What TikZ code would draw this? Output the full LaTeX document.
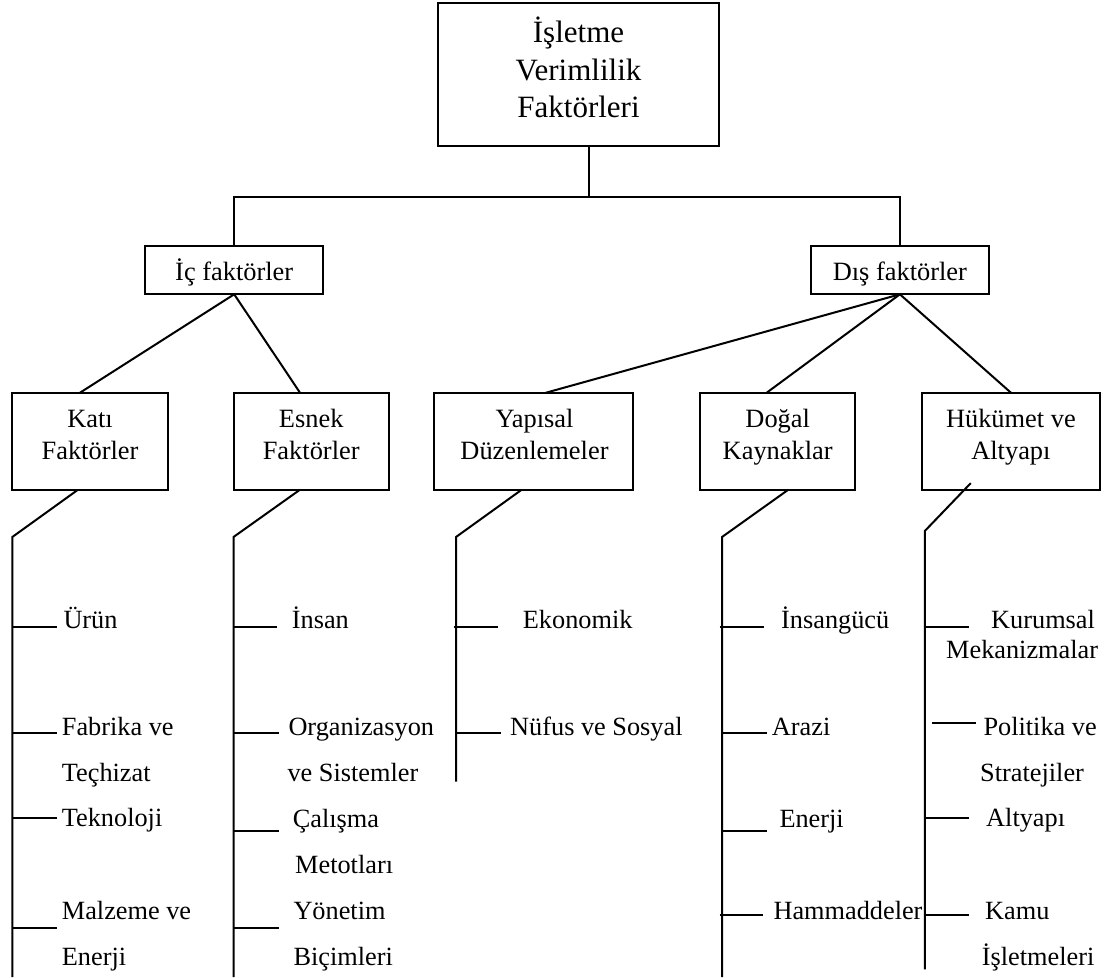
\documentclass[tikz,border=0pt]{standalone}
\usepackage{fontspec}
\setmainfont{Liberation Serif}
\begin{document}
\begin{tikzpicture}[x=1pt,y=-1pt,
  box/.style={draw, line width=2pt, inner sep=0pt, outer sep=0pt},
  link/.style={line width=2pt},
  boxtext/.style={anchor=base, inner sep=0pt, font=\fontsize{26.4}{31}\selectfont},
  headtext/.style={anchor=base, inner sep=0pt, font=\fontsize{31}{37}\selectfont},
  leaf/.style={anchor=base west, inner sep=0pt, font=\fontsize{26.3}{31}\selectfont}]
\useasboundingbox (0,0) rectangle (1110,977);

% ---- boxes ----
\node[box, minimum width=281.6pt, minimum height=143.3pt] (top) at (578.5,74.35) {};
\node[box, minimum width=178.3pt, minimum height=48.6pt] (ic) at (234.2,270) {};
\node[box, minimum width=177.7pt, minimum height=48.6pt] (dis) at (899.9,270) {};
\node[box, minimum width=155.4pt, minimum height=97pt] (kati) at (90,441.2) {};
\node[box, minimum width=155.3pt, minimum height=97pt] (esnek) at (311.7,441.2) {};
\node[box, minimum width=199.3pt, minimum height=97pt] (yapisal) at (533.7,441.2) {};
\node[box, minimum width=155.3pt, minimum height=97pt] (dogal) at (777.7,441.2) {};
\node[box, minimum width=177.7pt, minimum height=97pt] (hukumet) at (1010.9,441.2) {};

% ---- box captions ----
\node[headtext] (top1) at (578.5,42) {İşletme};
\node[headtext] (top2) at (578.5,80) {Verimlilik};
\node[headtext] (top3) at (578.5,117.5) {Faktörleri};
\node[boxtext] (ic1) at (234.2,280) {İç faktörler};
\node[boxtext] (dis1) at (899.9,280) {Dış faktörler};
\node[boxtext] (kati1) at (90,427.5) {Katı};
\node[boxtext] (kati2) at (90,459) {Faktörler};
\node[boxtext] (esnek1) at (311.2,427.5) {Esnek};
\node[boxtext] (esnek2) at (311.2,459) {Faktörler};
\node[boxtext] (yapisal1) at (534.5,427.5) {Yapısal};
\node[boxtext] (yapisal2) at (534.5,459) {Düzenlemeler};
\node[boxtext] (dogal1) at (777.7,427.5) {Doğal};
\node[boxtext] (dogal2) at (777.7,459) {Kaynaklar};
\node[boxtext] (hukumet1) at (1010.9,427.5) {Hükümet ve};
\node[boxtext] (hukumet2) at (1010.9,459) {Altyapı};

% ---- tree connectors ----
\coordinate (bar) at (589.3,197);
\draw[link] (bar |- top.south) -- (bar);
\draw[link] (ic.north) |- (bar) -| (dis.north);
\draw[link] (ic.south) -- ([xshift=-10pt]kati.north);
\draw[link] (ic.south) -- ([xshift=-11.7pt]esnek.north);
\draw[link] (dis.south) -- ([xshift=12.3pt]yapisal.north);
\draw[link] (dis.south) -- ([xshift=-11pt]dogal.north);
\draw[link] (dis.south) -- (hukumet.north);

% ---- spines below each group ----
\coordinate (k0) at (12.3,537);  \coordinate (k1) at (12.3,977);
\coordinate (e0) at (233.5,537); \coordinate (e1) at (233.5,977);
\coordinate (y0) at (456,537);   \coordinate (y1) at (456,781.7);
\coordinate (d0) at (722,537);   \coordinate (d1) at (722,977);
\coordinate (h0) at (924.8,531); \coordinate (h1) at (924.8,969.3);
\draw[link] ([xshift=-12pt]kati.south) -- (k0) -- (k1);
\draw[link] ([xshift=-11.7pt]esnek.south) -- (e0) -- (e1);
\draw[link] ([xshift=-12pt]yapisal.south) -- (y0) -- (y1);
\draw[link] ([xshift=10.6pt]dogal.south) -- (d0) -- (d1);
\draw[link] ([xshift=-40.1pt,yshift=6.6pt]hukumet.south) -- (h0) -- (h1);

% ---- ticks ----
\foreach \yy/\ee in {626.7/57, 733.3/57, 817.7/57, 928.3/57}
  \draw[link] (k0 |- 0,\yy) -- (\ee,\yy);
\foreach \yy/\ee in {626.7/277.3, 733.3/278.7, 831/278.5, 928.3/278.5}
  \draw[link] (e0 |- 0,\yy) -- (\ee,\yy);
\draw[link] ([xshift=-2.5pt]y0 |- 0,626.7) -- (498.3,626.7);
\draw[link] (y0 |- 0,733.3) -- (501,733.3);
\draw[link] ([xshift=-2.5pt]d0 |- 0,626.7) -- (764,626.7);
\draw[link] (d0 |- 0,733.3) -- (767.3,733.3);
\draw[link] (d0 |- 0,831) -- (767.3,831);
\draw[link] ([xshift=-2.5pt]d0 |- 0,915) -- (763.3,915);
\draw[link] (h0 |- 0,626.7) -- (969.3,626.7);
\draw[link] ([xshift=7pt]h0 |- 0,722.7) -- (976,722.7);
\draw[link] (h0 |- 0,818.3) -- (969.3,818.3);
\draw[link] (h0 |- 0,915) -- (969.3,915);

% ---- leaves ----
\node[leaf] (l11) at (63.3,628.3) {Ürün};
\node[leaf] (l12) at (61.7,735) {Fabrika ve};
\node[leaf] (l12b) at (61.7,781.7) {Teçhizat};
\node[leaf] (l13) at (61.7,826.7) {Teknoloji};
\node[leaf] (l14) at (61.7,919.3) {Malzeme ve};
\node[leaf] (l14b) at (61.7,965) {Enerji};

\node[leaf] (l21) at (291.7,628.3) {İnsan};
\node[leaf] (l22) at (288.3,735) {Organizasyon};
\node[leaf] (l22b) at (287.3,781.7) {ve Sistemler};
\node[leaf] (l23) at (292.7,827.7) {Çalışma};
\node[leaf] (l23b) at (295,873.3) {Metotları};
\node[leaf] (l24) at (293.3,919.3) {Yönetim};
\node[leaf] (l24b) at (293.3,965) {Biçimleri};

\node[leaf] (l31) at (522.7,628.3) {Ekonomik};
\node[leaf] (l32) at (510,735) {Nüfus ve Sosyal};

\node[leaf] (l41) at (781,628.3) {İnsangücü};
\node[leaf] (l42) at (771.7,735) {Arazi};
\node[leaf] (l43) at (779.3,827.7) {Enerji};
\node[leaf] (l44) at (773.3,919.3) {Hammaddeler};

\node[leaf] (l51) at (991,628.3) {Kurumsal};
\node[leaf] (l51b) at (946,658.3) {Mekanizmalar};
\node[leaf] (l52) at (983.3,735) {Politika ve};
\node[leaf] (l52b) at (980,781.7) {Stratejiler};
\node[leaf] (l53) at (986,826.7) {Altyapı};
\node[leaf] (l54) at (985,919.3) {Kamu};
\node[leaf] (l54b) at (981.7,965) {İşletmeleri};
\end{tikzpicture}
\end{document}
